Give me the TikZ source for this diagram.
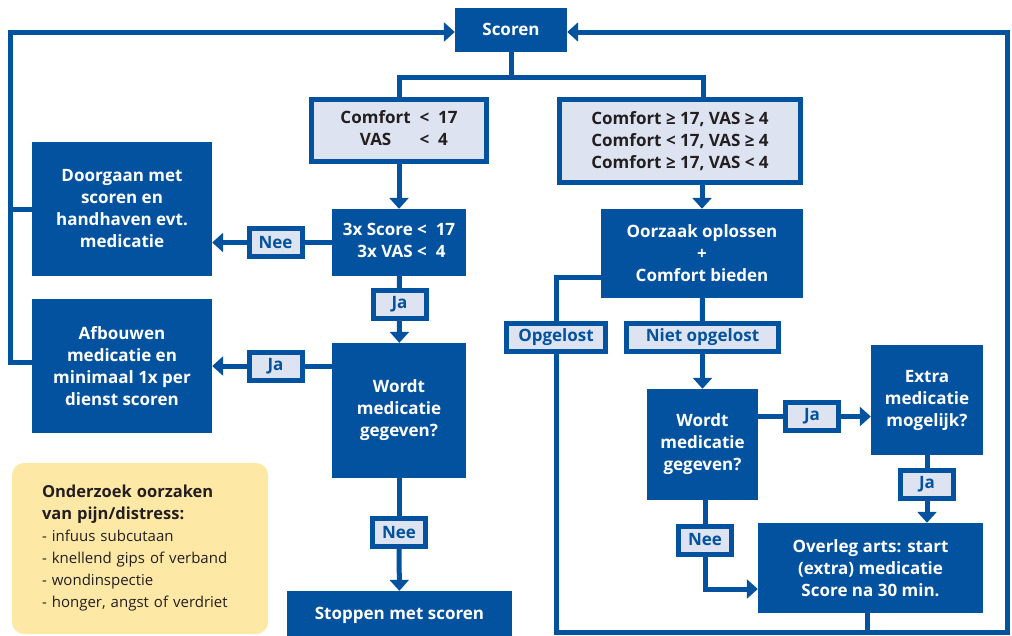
\documentclass[tikz,border=0pt]{standalone}
\usepackage{fontspec}
\setmainfont{Open Sans}
\usetikzlibrary{arrows.meta}

\definecolor{nblue}{RGB}{2,82,160}
\definecolor{nlight}{RGB}{221,227,240}
\definecolor{nyellow}{RGB}{253,232,165}
\definecolor{ndark}{RGB}{35,31,32}

\tikzset{
  box/.style={fill=nblue, text=white, font=\bfseries\fontsize{17}{22}\selectfont, align=center, inner sep=0pt},
  cond/.style={fill=nlight, draw=nblue, line width=5pt, text=ndark, font=\bfseries\fontsize{17}{22}\selectfont, align=center, inner sep=0pt},
  lbl/.style={fill=nlight, draw=nblue, line width=5pt, text=nblue, font=\bfseries\fontsize{17}{20}\selectfont, inner sep=0pt, minimum width=53pt, minimum height=28pt},
  conn/.style={draw=nblue, line width=5pt},
  arr/.style={conn, -{Triangle[length=11pt,width=19pt]}},
}

\begin{document}
\begin{tikzpicture}[x=1pt, y=-1pt]
\useasboundingbox (0,0) rectangle (1012,635);

% boxes
\node[box, minimum width=112pt, minimum height=44pt] (scoren) at (511,29.5) {Scoren};
\node[cond, minimum width=175pt, minimum height=62pt] (cL) at (399,130.5)
  {\begin{tabular}{@{}c@{\ \ }c@{\ \ }l@{}}Comfort & < & 17\\ VAS & < & 4\end{tabular}};
\node[cond, minimum width=241pt, minimum height=83pt] (cR) at (680,141)
  {Comfort ≥ 17, VAS ≥ 4\\Comfort < 17, VAS ≥ 4\\Comfort ≥ 17, VAS < 4};
\node[box, minimum width=180pt, minimum height=134pt] (doorgaan) at (122,209) {Doorgaan met\\scoren en\\handhaven evt.\\medicatie};
\node[box, minimum width=180pt, minimum height=134pt] (afbouwen) at (122,366) {Afbouwen\\medicatie en\\minimaal 1x per\\dienst scoren};
\node[box, minimum width=134pt, minimum height=67pt] (drie) at (399,242.5)
  {\begin{tabular}{@{}r@{\ }c@{\ \ }l@{}}3x Score & < & 17\\ 3x VAS & < & 4\end{tabular}};
\node[box, minimum width=134pt, minimum height=135pt] (wordtL) at (399,410.5) {Wordt\\medicatie\\gegeven?};
\node[box, minimum width=225pt, minimum height=49pt] (stoppen) at (399.5,615.5) {Stoppen met scoren};
\node[box, minimum width=202pt, minimum height=89pt] (oorzaak) at (702,253.5) {Oorzaak oplossen\\+\\Comfort bieden};
\node[box, minimum width=111pt, minimum height=111pt] (wordtR) at (702.5,444.5) {Wordt\\medicatie\\gegeven?};
\node[box, minimum width=112pt, minimum height=110pt] (extra) at (927,400) {Extra\\medicatie\\mogelijk?};
\node[box, minimum width=225pt, minimum height=90pt] (overleg) at (870.5,568) {Overleg arts: start\\(extra) medicatie\\Score na 30 min.};

\node[fill=nyellow, rounded corners=12pt, minimum width=256pt, minimum height=171pt, inner xsep=30pt, text width=196pt, align=left,
  text=ndark, font=\fontsize{15}{22}\selectfont] (note) at (140,548.5)
  {{\bfseries\fontsize{16.5}{22}\selectfont Onderzoek oorzaken\\van pijn/distress:}\\- infuus subcutaan\\- knellend gips of verband\\- wondinspectie\\- honger, angst of verdriet};

% labels
\node[lbl] (nee1) at (275.5,242.5) {Nee};
\node[lbl] (ja1) at (399.5,304.5) {Ja};
\node[lbl] (ja2) at (275.5,366) {Ja};
\node[lbl] (nee2) at (399,532.5) {Nee};
\node[lbl, minimum width=99pt] (opgelost) at (556,337.5) {Opgelost};
\node[lbl, minimum width=152pt] (niet) at (702.5,337.5) {Niet opgelost};
\node[lbl] (ja3) at (812,416.5) {Ja};
\node[lbl] (ja4) at (927,484) {Ja};
\node[lbl] (nee3) at (705,540) {Nee};

\coordinate (fork) at (511,77);
\coordinate (lt) at (10,32);
\coordinate (lb) at (10,362);
\coordinate (tr) at (1007,32);
\coordinate (br) at (1007,632);

% connectors
\draw[conn] (scoren) -- (fork) -| (cL);
\draw[conn] (fork) -| ([xshift=23pt]cR.north);
\draw[arr] (cL) -- (drie);
\draw[arr] (cR.south -| oorzaak) -- (oorzaak);

\draw[conn] (drie) -- (nee1);
\draw[arr] (nee1) -- (nee1 -| doorgaan.east);
\draw[conn] (drie) -- (ja1);
\draw[arr] (ja1) -- (wordtL);
\draw[conn] (ja2 -| wordtL.west) -- (ja2);
\draw[arr] (ja2) -- (ja2 -| afbouwen.east);
\draw[conn] (wordtL) -- (nee2);
\draw[arr] (nee2) -- (stoppen);

\draw[conn] (doorgaan.west) -- (doorgaan.west -| lb);
\draw[arr] (afbouwen.west |- lb) -- (lb) -- (lt) -- (lt -| scoren.west);

\draw[conn] (oorzaak) -- (niet);
\draw[arr] (niet) -- (wordtR);
\draw[conn] ([yshift=-24pt]oorzaak.west) -| (opgelost);
\draw[arr] (opgelost) -- (opgelost |- br) -- (br) -- (tr) -- (tr -| scoren.east);
\draw[conn] ([xshift=-3.5pt]overleg.south) -- ([xshift=-3.5pt]overleg.south |- br);

\draw[conn] (ja3 -| wordtR.east) -- (ja3);
\draw[arr] (ja3) -- (ja3 -| extra.west);
\draw[conn] (extra) -- (ja4);
\draw[arr] (ja4) -- (ja4 |- overleg.north);
\draw[conn] (wordtR.south -| nee3) -- (nee3);
\draw[arr] (nee3) |- ([yshift=-21pt]overleg.west);

\end{tikzpicture}
\end{document}
